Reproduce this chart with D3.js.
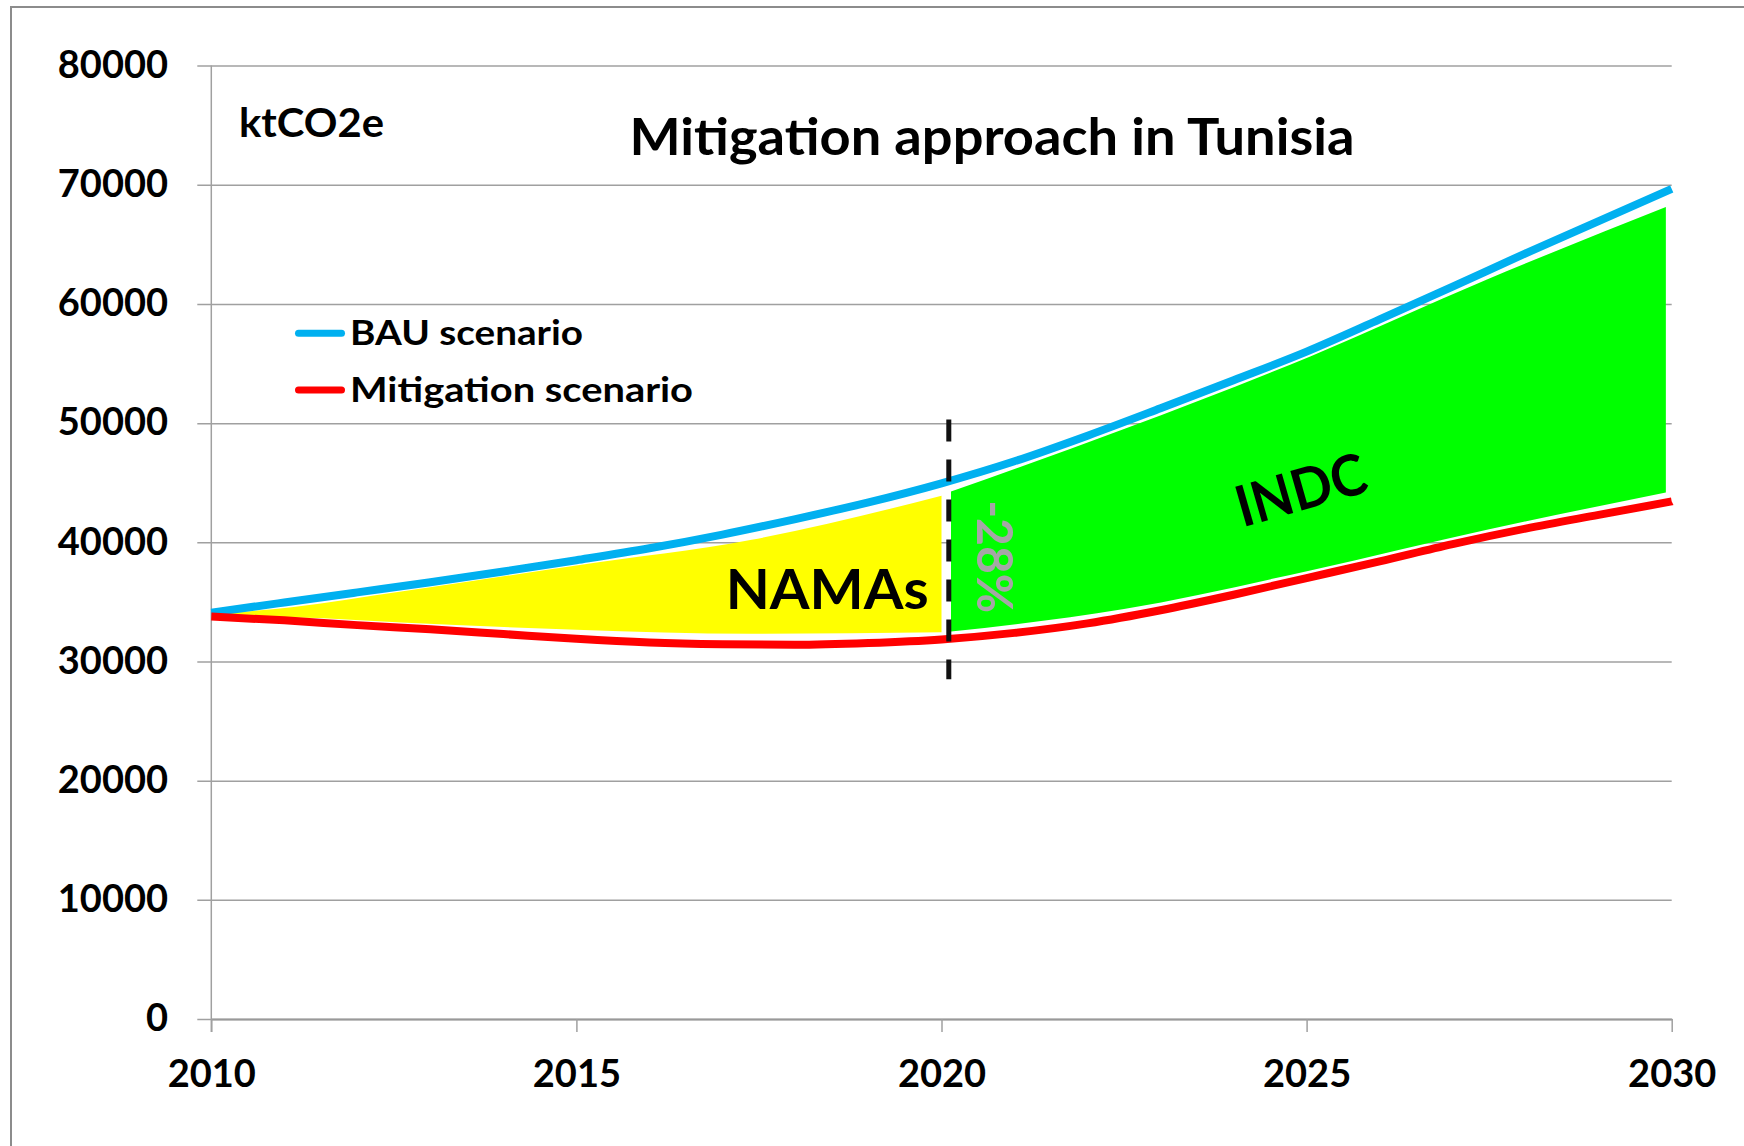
<!DOCTYPE html>
<html>
<head>
<meta charset="utf-8">
<script src="https://cdn.jsdelivr.net/npm/d3@7"></script>
<style>
  html, body { margin: 0; padding: 0; background: #fff; }
  svg { display: block; }
  text { font-family: Lato, "Open Sans", sans-serif; font-weight: 700; }
</style>
</head>
<body>
<svg id="chart" width="1744" height="1146"></svg>
<script>
// ---------- data ----------
const years = [2010, 2011, 2012, 2013, 2014, 2015, 2016, 2017, 2018, 2019, 2020,
               2021, 2022, 2023, 2024, 2025, 2026, 2027, 2028, 2029, 2030];
const bauValues = [34100, 34950, 35800, 36650, 37550, 38500, 39500, 40650, 41950, 43350, 44950,
                   46800, 48950, 51250, 53600, 56000, 58700, 61450, 64250, 66950, 69650];
const mitigationValues = [33770, 33450, 33050, 32700, 32300, 31900, 31600, 31450, 31400, 31550, 31850,
                          32400, 33200, 34300, 35600, 37000, 38400, 39850, 41150, 42300, 43430];

// shaded bands
const namaYears  = [2010.2, 2011.1, 2012.6, 2015, 2017.4, 2020];
const namaTop    = [34050, 34560, 35870, 38060, 40210, 43900];
const namaBottom = [33700, 33690, 33270, 32660, 32320, 32450];

const indcYears  = [2020.13, 2022.5, 2025.05, 2027.47, 2029.92];
const indcTop    = [44270, 49500, 55600, 62050, 68140];
const indcBottom = [32510, 34400, 37640, 41050, 44180];

const dividerYear = 2020.1;
const dividerRange = [50300, 28500];

const yTicks = [0, 10000, 20000, 30000, 40000, 50000, 60000, 70000, 80000];
const xTicks = [2010, 2015, 2020, 2025, 2030];

const seriesNames = ["BAU scenario", "Mitigation scenario"];
const seriesColors = ["#00B0F0", "#FF0000"];

const chartTitle = "Mitigation approach in Tunisia";
const unitLabel = "ktCO2e";
const namaLabel = "NAMAs";
const indcLabel = "INDC";
const pctLabel = "-28%";

// ---------- layout ----------
const svg = d3.select("#chart");
const X0 = 211.3, X1 = 1671.7, Y0 = 1019, Y1 = 65.6;
const x = d3.scaleLinear().domain([2010, 2030]).range([X0, X1]);
const y = d3.scaleLinear().domain([0, 80000]).range([Y0, Y1]);

// outer frame
svg.append("rect").attr("x", 11).attr("y", 7).attr("width", 1800).attr("height", 1200)
  .attr("fill", "none").attr("stroke", "#8c8c8c").attr("stroke-width", 2);

// gridlines + y labels
const yAxis = d3.axisLeft(y).tickValues(yTicks).tickSize(-(X1 - X0 + 14)).tickPadding(29.3)
  .tickFormat(d3.format("d"));
const gy = svg.append("g").attr("transform", `translate(${X0 - 14},0)`).call(yAxis);
gy.select(".domain").remove();
gy.selectAll(".tick line").attr("stroke", "#a0a0a0").attr("stroke-width", 1.5);
gy.selectAll(".tick text").attr("dy", null).attr("y", 11.7)
  .attr("font-size", 38).attr("fill", "#000").style("font-family", "Lato, sans-serif").style("font-weight", 700);

// y axis vertical line
svg.append("line").attr("x1", X0).attr("x2", X0).attr("y1", Y1).attr("y2", Y0 + 13)
  .attr("stroke", "#a0a0a0").attr("stroke-width", 1.5);

// x axis
const xAxis = d3.axisBottom(x).tickValues(xTicks).tickSize(13).tickSizeOuter(0).tickFormat(d3.format("d"));
const gx = svg.append("g").attr("transform", `translate(0,${Y0})`).call(xAxis);
gx.select(".domain").attr("stroke", "#999").attr("stroke-width", 2);
gx.selectAll(".tick line").attr("stroke", "#a0a0a0").attr("stroke-width", 1.5);
gx.selectAll(".tick text").attr("dy", null).attr("y", 68)
  .attr("font-size", 38).attr("fill", "#000").style("font-family", "Lato, sans-serif").style("font-weight", 700);

// ---------- bands ----------
const band = d3.area().x(d => x(d.year)).y0(d => y(d.bottom)).y1(d => y(d.top)).curve(d3.curveMonotoneX);
const namaData = namaYears.map((yr, i) => ({year: yr, top: namaTop[i], bottom: namaBottom[i]}));
const indcData = indcYears.map((yr, i) => ({year: yr, top: indcTop[i], bottom: indcBottom[i]}));
svg.append("path").datum(namaData).attr("d", band).attr("fill", "#FFFF00");
svg.append("path").datum(indcData).attr("d", band).attr("fill", "#00FF00");

// ---------- lines ----------
const line = d3.line().x(d => x(d.year)).y(d => y(d.v)).curve(d3.curveMonotoneX);
const seriesValues = [bauValues, mitigationValues];
seriesValues.forEach((vals, k) => {
  svg.append("path").datum(years.map((yr, i) => ({year: yr, v: vals[i]})))
    .attr("d", line).attr("fill", "none").attr("stroke", seriesColors[k]).attr("stroke-width", 8);
});

// divider
svg.append("line").attr("x1", x(dividerYear)).attr("x2", x(dividerYear))
  .attr("y1", y(dividerRange[0])).attr("y2", y(dividerRange[1]))
  .attr("stroke", "#111").attr("stroke-width", 5).attr("stroke-dasharray", "22,18");

// ---------- texts ----------
svg.append("text").attr("x", 629.5).attr("y", 155).attr("font-size", 51)
  .attr("textLength", 725).attr("lengthAdjust", "spacingAndGlyphs").text(chartTitle);

svg.append("text").attr("x", 239).attr("y", 136.7).attr("font-size", 41)
  .attr("textLength", 145).attr("lengthAdjust", "spacingAndGlyphs").text(unitLabel);

// legend
const legendY = [333.3, 390];
const legendLen = [233, 343];
seriesNames.forEach((name, k) => {
  svg.append("line").attr("x1", 298.5).attr("x2", 341.5).attr("y1", legendY[k]).attr("y2", legendY[k])
    .attr("stroke", seriesColors[k]).attr("stroke-width", 7).attr("stroke-linecap", "round");
  svg.append("text").attr("x", 350).attr("y", legendY[k] + 12).attr("font-size", 35)
    .attr("textLength", legendLen[k]).attr("lengthAdjust", "spacingAndGlyphs").text(name);
});

svg.append("text").attr("x", 725.7).attr("y", 609.3).attr("font-size", 56)
  .attr("textLength", 203).attr("lengthAdjust", "spacingAndGlyphs").text(namaLabel);

svg.append("g").attr("transform", "translate(1301,490) rotate(-16)")
  .append("text").attr("x", 0).attr("y", 20).attr("text-anchor", "middle").attr("font-size", 57)
  .attr("textLength", 133).attr("lengthAdjust", "spacingAndGlyphs").text(indcLabel);

svg.append("g").attr("transform", "translate(994,556.7) rotate(90)")
  .append("text").attr("x", 0).attr("y", 17.5).attr("text-anchor", "middle").attr("font-size", 50)
  .attr("fill", "#A6A6A6").attr("textLength", 113).attr("lengthAdjust", "spacingAndGlyphs").text(pctLabel);
</script>
</body>
</html>
